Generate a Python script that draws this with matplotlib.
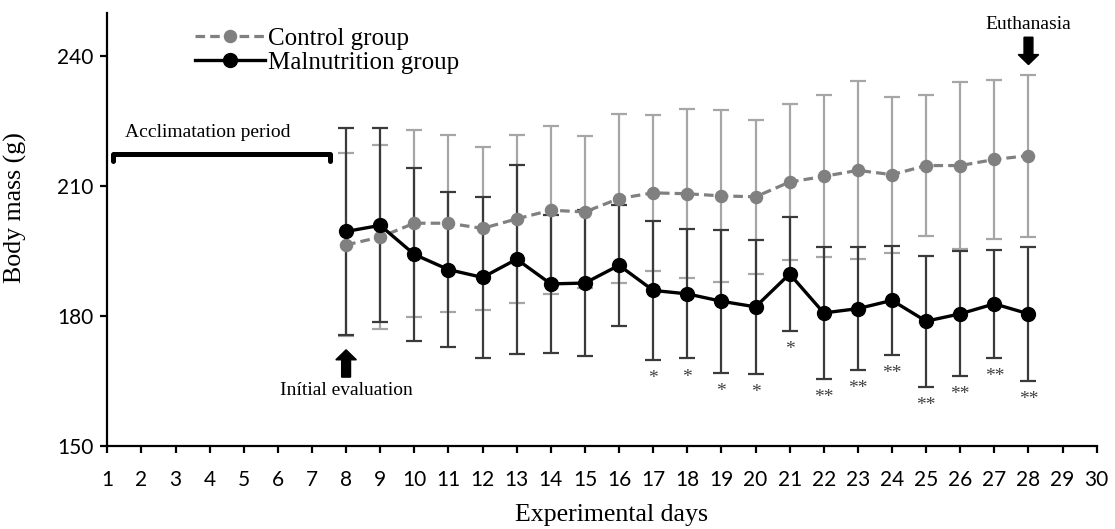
import matplotlib
matplotlib.use("Agg")
import matplotlib.pyplot as plt

# data (mean and SD, days 8-28)
days = list(range(8, 29))
control_mean = [196.5, 198.3, 201.5, 201.5, 200.3, 202.5, 204.5, 204.1, 207.2, 208.5, 208.3,
                207.8, 207.6, 211.0, 212.3, 213.7, 212.7, 214.8, 214.8, 216.2, 217.1]
control_sd = [21.1, 21.2, 21.6, 20.4, 18.8, 19.3, 19.4, 17.6, 19.4, 18.0, 19.5,
              19.9, 17.7, 17.9, 18.7, 20.5, 18.0, 16.3, 19.3, 18.4, 18.7]
malnut_mean = [199.6, 201.0, 194.3, 190.8, 189.0, 193.2, 187.5, 187.7, 191.8, 186.0, 185.2,
               183.5, 182.2, 189.8, 180.8, 181.8, 183.7, 178.9, 180.6, 182.9, 180.6]
malnut_sd = [23.8, 22.4, 19.9, 17.9, 18.5, 21.8, 16.0, 16.9, 14.0, 16.0, 14.9,
             16.5, 15.5, 13.1, 15.2, 14.2, 12.6, 15.1, 14.4, 12.4, 15.4]
signif = ['', '', '', '', '', '', '', '', '', '*', '*',
          '*', '*', '*', '**', '**', '**', '**', '**', '**', '**']
xticks = list(range(1, 31))
yticks = [150, 180, 210, 240]

serif = 'Liberation Serif'
sans = 'Lato'

fig = plt.figure(figsize=(11.15, 5.29), dpi=100)
ax = fig.add_axes([0.0962, 0.156, 0.8874, 0.8195])

# error bars
ax.errorbar(days, control_mean, yerr=control_sd, fmt='none', ecolor='#a6a6a6',
            elinewidth=1.6, capsize=5.5, capthick=1.6, zorder=2)
ax.errorbar(days, malnut_mean, yerr=malnut_sd, fmt='none', ecolor='#3a3a3a',
            elinewidth=1.6, capsize=5.5, capthick=1.6, zorder=3)

# mean lines
ax.plot(days, control_mean, linestyle='--', dashes=(3, 1.6), marker='o', color='#808080',
        lw=2.3, ms=8.7, zorder=4, label='Control group')
ax.plot(days, malnut_mean, linestyle='-', marker='o', color='black',
        lw=2.4, ms=10, zorder=5, label='Malnutrition group')

# significance marks below malnutrition bars
for d, m, s, lab in zip(days, malnut_mean, malnut_sd, signif):
    if lab:
        ax.text(d, m - s - 4.3, lab, ha='center', va='center', fontsize=14,
                family=serif, color='#404040')

# acclimatation bracket
ax.plot([1.16, 1.16, 7.53, 7.53], [215.9, 217.5, 217.5, 215.9], color='black', lw=3.6,
        solid_capstyle='round', solid_joinstyle='round', clip_on=False, zorder=6)
ax.text(3.95, 222.5, 'Acclimatation period', ha='center', va='center',
        fontsize=14, family=serif)

# arrows
ax.arrow(28, 244.4, 0, -6.3, width=0.26, head_width=0.6, head_length=2.3,
         length_includes_head=True, color='black', clip_on=False, zorder=6)
ax.text(28, 247.3, 'Euthanasia', ha='center', va='center', fontsize=14, family=serif)
ax.arrow(8, 166.0, 0, 6.3, width=0.26, head_width=0.6, head_length=2.3,
         length_includes_head=True, color='black', clip_on=False, zorder=6)
ax.text(8, 162.9, 'Inítial evaluation', ha='center', va='center', fontsize=14, family=serif)

# axes
ax.set_xlim(1, 30)
ax.set_ylim(150, 250)
ax.set_xticks(xticks)
ax.set_yticks(yticks)
ax.spines['top'].set_visible(False)
ax.spines['right'].set_visible(False)
for sp in ['left', 'bottom']:
    ax.spines[sp].set_linewidth(1.6)
ax.tick_params(direction='out', length=5, width=1.6, labelsize=15, pad=5)
ax.tick_params(axis='x', pad=12)
for lab in ax.get_xticklabels() + ax.get_yticklabels():
    lab.set_family(sans)

ax.set_xlabel('Experimental days', fontsize=18.6, family=serif, va='center')
ax.xaxis.set_label_coords(0.51, -0.158)
ax.set_ylabel('Body mass (g)', fontsize=18.6, family=serif, va='center')
ax.yaxis.set_label_coords(-0.093, 0.551)

ax.legend(loc='upper left', bbox_to_anchor=(0.0886, 0.967), frameon=False,
          prop={'family': serif, 'size': 18}, handlelength=2.8, handletextpad=0.12,
          labelspacing=0.05, borderpad=0, borderaxespad=0)

fig.savefig('out.png', dpi=100)
